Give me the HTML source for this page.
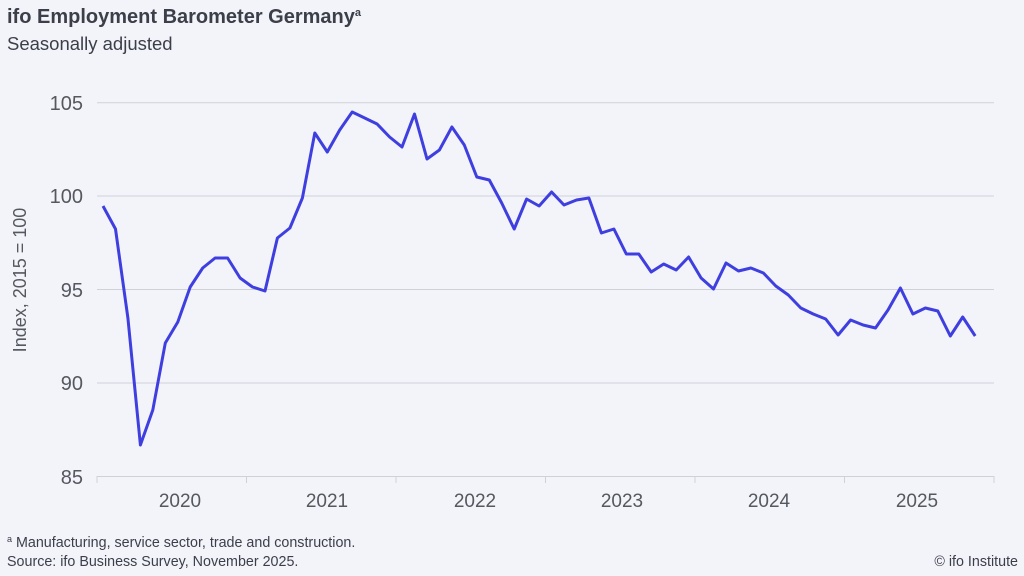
<!DOCTYPE html>
<html><head><meta charset="utf-8"><style>
html,body{margin:0;padding:0;background:#f3f4fa;}
svg{display:block;font-family:"Liberation Sans",sans-serif;}
</style></head><body>
<svg width="1024" height="576" viewBox="0 0 1024 576">
<rect width="1024" height="576" fill="#f3f4fa"/>
<text x="7" y="23" font-size="20" font-weight="bold" fill="#3c3f4a">ifo Employment Barometer Germany<tspan font-size="11" dy="-7">a</tspan></text>
<text x="7" y="50" font-size="18.5" fill="#3c3f4a">Seasonally adjusted</text>
<g stroke="#cfd1d9" stroke-width="1">
<line x1="97" y1="102.7" x2="994" y2="102.7"/>
<line x1="97" y1="196" x2="994" y2="196"/>
<line x1="97" y1="289.5" x2="994" y2="289.5"/>
<line x1="97" y1="383" x2="994" y2="383"/>
<line x1="97" y1="476.5" x2="994" y2="476.5"/>
<line x1="97" y1="476" x2="97" y2="483"/>
<line x1="246.5" y1="476" x2="246.5" y2="483"/>
<line x1="396" y1="476" x2="396" y2="483"/>
<line x1="545.5" y1="476" x2="545.5" y2="483"/>
<line x1="695" y1="476" x2="695" y2="483"/>
<line x1="844.5" y1="476" x2="844.5" y2="483"/>
<line x1="994" y1="476" x2="994" y2="483"/>
</g>
<g font-size="20" fill="#55585f" text-anchor="end">
<text x="83" y="110">105</text>
<text x="83" y="203">100</text>
<text x="83" y="297">95</text>
<text x="83" y="390">90</text>
<text x="83" y="484">85</text>
</g>
<text transform="translate(26,280) rotate(-90)" font-size="18" fill="#55585f" text-anchor="middle">Index, 2015 = 100</text>
<g font-size="19" fill="#55585f" text-anchor="middle">
<text x="180" y="507">2020</text>
<text x="327" y="507">2021</text>
<text x="475" y="507">2022</text>
<text x="622" y="507">2023</text>
<text x="769" y="507">2024</text>
<text x="917" y="507">2025</text>
</g>
<polyline fill="none" stroke="#3f3fe0" stroke-width="3" stroke-linejoin="round" points="
103,206 115.5,229 127.9,318 140.4,445 152.8,410 165.3,343 177.8,322 190.2,287 202.7,268 215.1,258 227.6,258 240.1,278 252.5,287 265,291 277.4,238 289.9,228 302.4,198 314.8,133 327.3,152 339.7,130 352.2,112 364.7,118 377.1,124 389.6,137 402,147 414.5,114 427,159 439.4,150 451.9,127 464.3,145 476.8,177 489.3,180 501.7,203 514.2,229 526.6,199 539.1,206 551.6,192 564,205 576.5,200 588.9,198 601.4,233 613.9,229 626.3,254 638.8,254 651.2,272 663.7,264 676.2,270 688.6,257 701.1,278 713.5,289 726,263 738.5,271 750.9,268 763.4,273 775.8,286 788.3,295 800.8,308 813.2,314 825.7,319 838.1,335 850.6,320 863.1,325 875.5,328 888,310 900.4,288 912.9,314 925.4,308 937.8,311 950.3,336 962.7,317 975.2,336"/>
<text x="7" y="547" font-size="14.3" fill="#3c3f4a"><tspan font-size="9" dy="-5">a</tspan><tspan dy="5"> Manufacturing, service sector, trade and construction.</tspan></text>
<text x="7" y="566" font-size="14.3" fill="#3c3f4a">Source: ifo Business Survey, November 2025.</text>
<text x="1018" y="566" font-size="14.3" fill="#3c3f4a" text-anchor="end">© ifo Institute</text>
</svg>
</body></html>
